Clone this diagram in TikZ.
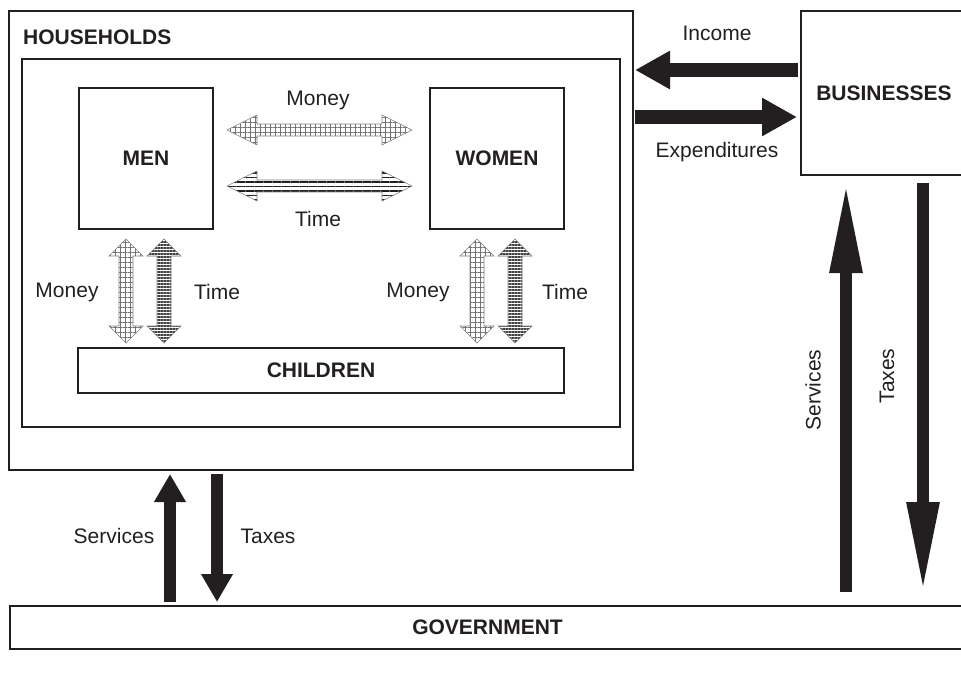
\documentclass[tikz,border=0pt]{standalone}
\usepackage{fontspec}
\setmainfont{Liberation Sans}
\usetikzlibrary{arrows.meta}
\usetikzlibrary{patterns.meta}
\usetikzlibrary{calc}

\definecolor{ink}{RGB}{35,31,32}

% double-headed block arrows: style, first tip, second tip
\newcommand\hflow[3]{%
  \filldraw[#1] (#2) -- ++(30,-15) -- ++(0,9) -- ($(#3)+(-30,-6)$) -- ++(0,-9) -- (#3)
    -- ++(-30,15) -- ++(0,-9) -- ($(#2)+(30,6)$) -- ++(0,9) -- cycle;}
\newcommand\vflow[3]{%
  \filldraw[#1] (#2) -- ++(17,17) -- ++(-10,0) -- ($(#3)+(7,-17)$) -- ++(10,0) -- (#3)
    -- ++(-17,-17) -- ++(10,0) -- ($(#2)+(-7,17)$) -- ++(-10,0) -- cycle;}

\begin{document}
\begin{tikzpicture}[x=1pt, y=-1pt] % one unit = one pixel of the reference, y downwards
    \tikzstyle{box}=[draw=ink, line width=2pt, inner sep=0pt]
    \tikzstyle{txt}=[inner sep=0pt, font=\fontsize{21}{25}\selectfont, text=ink]
    \tikzstyle{head}=[txt, font=\fontsize{21}{25}\selectfont\bfseries]
    \tikzstyle{flowh}=[ink, line width=14pt, -{Triangle[length=35pt,width=36pt]}]
    \tikzstyle{flowb}=[ink, line width=12pt, -{Triangle[length=28pt,width=30pt]}]
    \tikzstyle{flowr}=[ink, line width=12pt, -{Triangle[length=90pt,width=30pt]}]
    \tikzstyle{money}=[draw=gray, line width=0.6pt, pattern color=gray!90!black,
        pattern={Hatch[angle=0,distance=5pt,line width=0.5pt]}]
    \tikzstyle{timeh}=[draw=gray, line width=0.6pt, pattern color=ink,
        pattern={Lines[angle=0,distance=4.5pt,line width=1.4pt]}]
    \tikzstyle{timev}=[draw=gray, line width=0.6pt, pattern color=ink!85,
        pattern={Lines[angle=0,distance=3pt,line width=1.2pt]}]

    \clip (0,0) rectangle (961,677);

    % boxes
    \node[box, minimum width=624pt, minimum height=459pt] (hh) at (321,240.5) {};
    \node[box, line width=1.3pt, minimum width=598pt, minimum height=368pt] (home) at (321,243) {};
    \node[head, anchor=west] (hhlabel) at (23,37) {HOUSEHOLDS};
    \node[box, head, minimum width=134pt, minimum height=141pt] (men) at (146,158.5) {MEN};
    \node[box, head, minimum width=134pt, minimum height=141pt] (women) at (497,158.5) {WOMEN};
    \node[box, head, minimum width=486pt, minimum height=45pt] (children) at (321,370.5) {CHILDREN};
    \node[box, head, minimum width=166pt, minimum height=164pt] (bus) at (884,93) {BUSINESSES};
    \node[box, head, minimum width=955pt, minimum height=43pt] (gov) at (487.5,627.5) {GOVERNMENT};

    % ends of the flows
    \coordinate (incA) at (798,70);  \coordinate (incB) at (635,70);
    \coordinate (expA) at (635,117); \coordinate (expB) at (797,117);
    \coordinate (bsA) at (846,592);  \coordinate (bsB) at (846,183);
    \coordinate (btA) at (923,183);  \coordinate (btB) at (923,592);
    \coordinate (gsA) at (170,602);  \coordinate (gsB) at (170,474);
    \coordinate (gtA) at (217,474);  \coordinate (gtB) at (217,602);

    % flows of money between the sectors
    \draw[flowh] (incA) -- (incB);
    \draw[flowh] (expA) -- (expB);
    \draw[flowr] (bsA) -- (bsB);
    \draw[flowr] (btA) -- (btB);
    \draw[flowb] (gsA) -- (gsB);
    \draw[flowb] (gtA) -- (gtB);

    % flows inside the household
    \coordinate (mmA) at (227,130); \coordinate (mmB) at (412,130);
    \coordinate (mtA) at (227,186); \coordinate (mtB) at (412,186);
    \hflow{money}{mmA}{mmB}
    \hflow{timeh}{mtA}{mtB}
    \foreach \name/\xm/\xt in {l/126/164, r/477/515} {
        \coordinate (cm\name A) at (\xm,239); \coordinate (cm\name B) at (\xm,343);
        \coordinate (ct\name A) at (\xt,239); \coordinate (ct\name B) at (\xt,343);
        \vflow{money}{cm\name A}{cm\name B}
        \vflow{timev}{ct\name A}{ct\name B}
    }

    % labels
    \node[txt] (lincome) at (717,33) {Income};
    \node[txt] (lexp) at (717,152) {Expenditures};
    \node[txt] (lmoney) at (318,100) {Money};
    \node[txt] (ltime) at (318,219) {Time};
    \node[txt] (lmoneyl) at (67,292) {Money};
    \node[txt] (ltimel) at (217,292) {Time};
    \node[txt] (lmoneyr) at (418,292) {Money};
    \node[txt] (ltimer) at (565,292) {Time};
    \node[txt] (lservg) at (114,536) {Services};
    \node[txt] (ltaxg) at (268,536) {Taxes};
    \node[txt, rotate=90] (lservb) at (813,390) {Services};
    \node[txt, rotate=90] (ltaxb) at (887,376) {Taxes};
\end{tikzpicture}
\end{document}
